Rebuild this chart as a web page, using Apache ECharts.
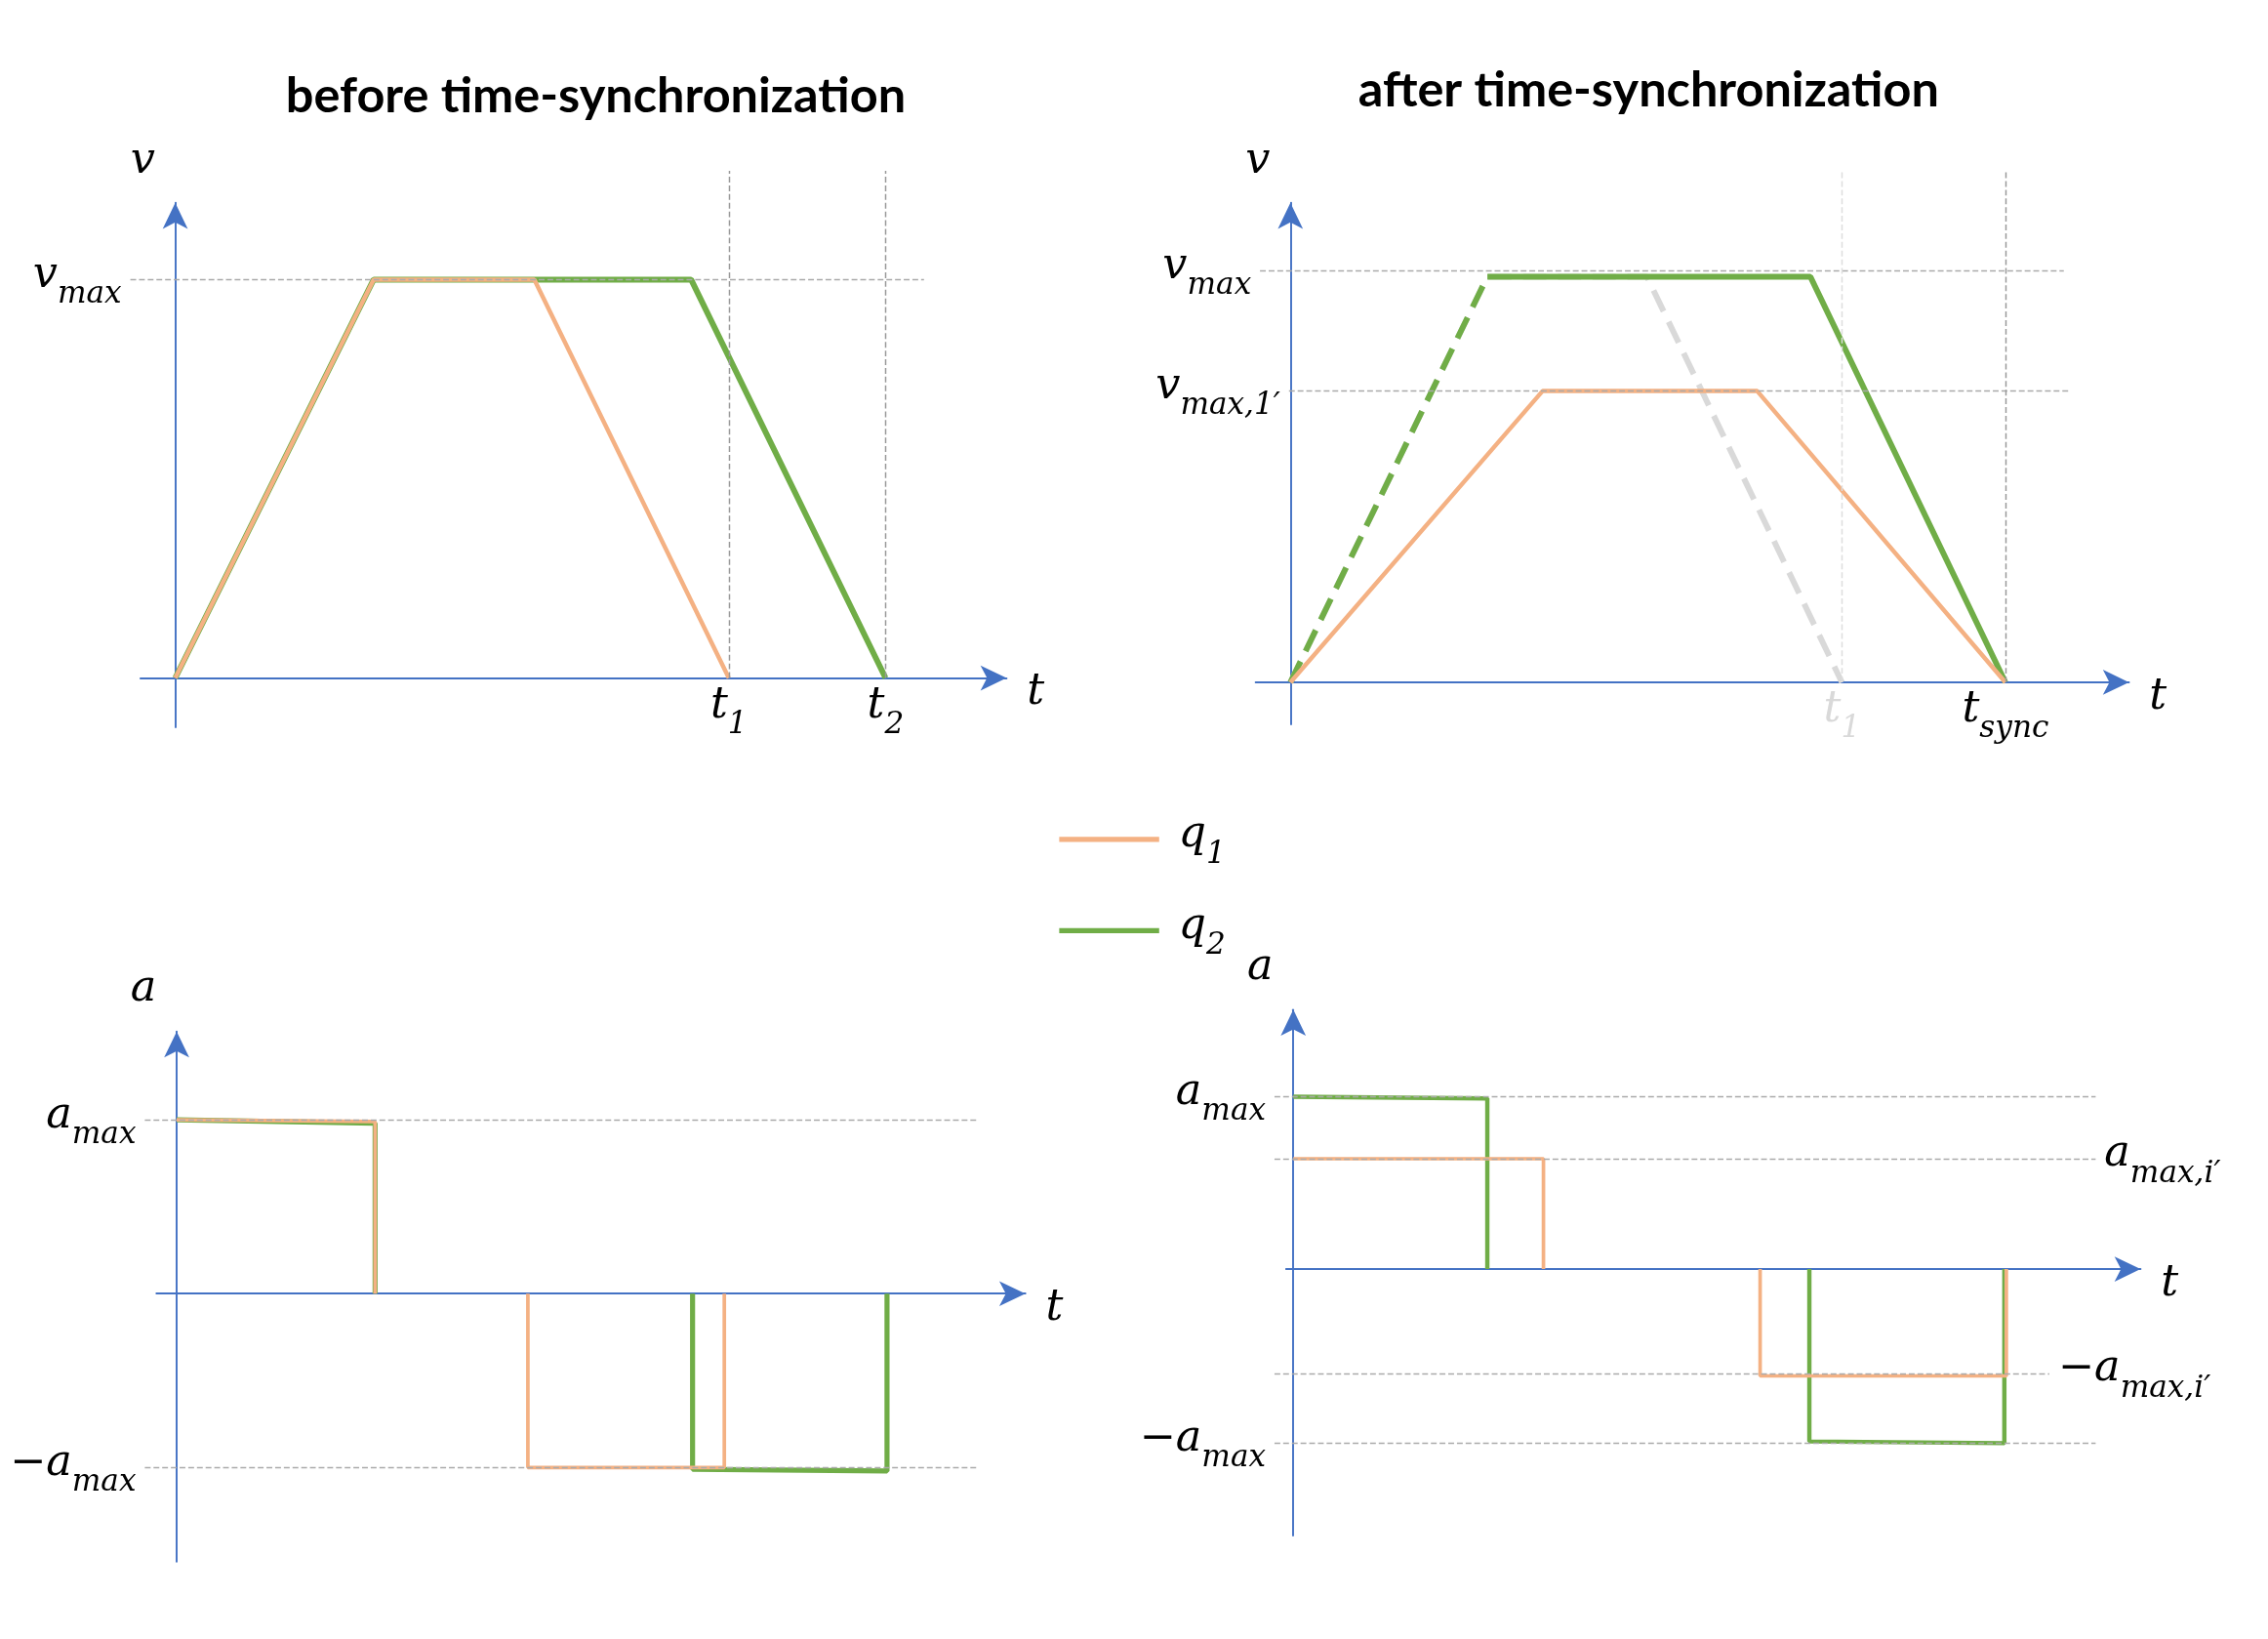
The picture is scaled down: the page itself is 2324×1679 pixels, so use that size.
<!DOCTYPE html>
<html lang="en">
<head>
<meta charset="UTF-8" />
<title>time synchronization</title>
<script src="https://cdn.jsdelivr.net/npm/echarts@6.0.0/dist/echarts.min.js"></script>
<style>
  body { margin: 0; background: #fff; }
  #main { width: 2324px; height: 1679px; }
</style>
</head>
<body>
<div id="main"></div>
<script>
// data (time in units of accel phase, velocity / accel normalised to max)
const beforeV_q1 = [[0, 0], [1, 1], [1.81, 1], [2.79, 0]];
const beforeV_q2 = [[0, 0], [1, 1], [2.6, 1], [3.58, 0]];
const beforeT = { t1: 2.79, t2: 3.58 };

const afterV_q1 = [[0, 0], [1.28, 0.708], [2.37, 0.708], [3.63, 0]];
const afterV_q2dash = [[0, 0], [1, 0.986]];
const afterV_q2 = [[1, 0.986], [2.64, 0.986], [3.63, 0]];
const afterV_ghost = [[0, 0], [1, 0.986], [1.81, 0.986], [2.8, 0]];
const afterT = { t1: 2.8, tsync: 3.63 };
const afterVmax = 1.0, afterVmax1 = 0.708;

const beforeA_q1 = [[0, 1], [1, 0.99], [1, 0], '-', [1.77, 0], [1.77, -1], [2.76, -1], [2.76, 0]];
const beforeA_q2 = [[0, 1], [1, 0.98], [1, 0], '-', [2.6, 0], [2.6, -1.01], [3.58, -1.02], [3.58, 0]];

const afterA_q1 = [[0, 0.64], [1.27, 0.64], [1.27, 0], '-', [2.37, 0], [2.37, -0.62], [3.62, -0.62], [3.62, 0]];
const afterA_q2 = [[0, 1], [0.985, 0.99], [0.985, 0], '-', [2.62, 0], [2.62, -1.0], [3.61, -1.01], [3.61, 0]];
const afterAi = 0.64, afterAiNeg = -0.605;

const S = 2324 / 1566;
const ORANGE = '#F4B183', GREEN = '#70AD47', GHOST = '#D9D9D9', BLUE = '#4472C4';

const P = [
  { ox: 121, oy: 468, xl: 90, xr: 695, yt: 118, yb: 502, at: 140, ux: 137, uy: 275, yn: 'v' },
  { ox: 891, oy: 471, xl: 870, xr: 1470, yt: 118, yb: 500, at: 140, ux: 136, uy: 284, yn: 'v' },
  { ox: 122, oy: 893, xl: 100, xr: 708, yt: 712, yb: 1078, at: 712, ux: 137, uy: 120, yn: 'a' },
  { ox: 893, oy: 876, xl: 880, xr: 1478, yt: 697, yb: 1060, at: 697, ux: 136, uy: 119, yn: 'a' }
];
const px2x = (p, x) => (x - p.ox) / p.ux;
const px2y = (p, y) => (p.oy - y) / p.uy;

const F = 30 * S, FS = 21 * S;
function rich(color) {
  return {
    m: { fontFamily: 'DejaVu Serif', fontStyle: 'italic', fontSize: F, color: color, lineHeight: F * 1.2, verticalAlign: 'top' },
    s: { fontFamily: 'DejaVu Serif', fontStyle: 'italic', fontSize: FS, color: color, lineHeight: F * 1.2, verticalAlign: 'bottom', padding: [0, 0, -3 * S, 0] }
  };
}
const lab = (m, s) => '{m|' + m + '}' + (s ? '{s|' + s + '}' : '');

// the axes are drawn in their own grid (arrow lengths), data and guides in a wider one
const grids = [], xAxes = [], yAxes = [];
P.forEach(p => {
  const axisLine = { onZero: true, symbol: ['none', 'arrow'], symbolSize: [13 * S, 18 * S], lineStyle: { color: BLUE, width: 1.3 * S } };
  const axl = (p.yn === 'v') ? p.ox - 24 : p.xl + 8;
  grids.push({ left: axl * S, top: p.at * S, width: (p.xr - axl) * S, height: (p.yb - p.at) * S });
  xAxes.push({
    type: 'value', gridIndex: grids.length - 1, min: px2x(p, axl), max: px2x(p, p.xr),
    splitLine: { show: false }, axisTick: { show: false }, axisLabel: { show: false }, axisLine,
    name: lab('t'), nameGap: 14 * S, nameTextStyle: { rich: rich('#000'), padding: [26 * S, 0, 0, 0] }
  });
  yAxes.push({
    type: 'value', gridIndex: grids.length - 1, min: px2y(p, p.yb), max: px2y(p, p.at),
    splitLine: { show: false }, axisTick: { show: false }, axisLabel: { show: false }, axisLine,
    name: lab(p.yn), nameGap: 8 * S, nameTextStyle: { rich: rich('#000'), align: 'right', padding: [0, 14 * S, 0, 0] }
  });
  grids.push({ left: p.xl * S, top: p.yt * S, width: (p.xr - p.xl) * S, height: (p.yb - p.yt) * S });
  xAxes.push({ type: 'value', gridIndex: grids.length - 1, min: px2x(p, p.xl), max: px2x(p, p.xr), show: false });
  yAxes.push({ type: 'value', gridIndex: grids.length - 1, min: px2y(p, p.yb), max: px2y(p, p.yt), show: false });
});

const dash = { color: '#AAAAAA', type: 'dashed', width: 1 * S };
function hline(p, y, x0, x1, text, pos) {
  return [{ coord: [px2x(p, x0), y], lineStyle: dash,
    label: text ? { show: true, position: pos, formatter: text, rich: rich('#000'), distance: 6 * S } : { show: false } },
    { coord: [px2x(p, x1), y] }];
}
function vline(p, x, ytop, text, color, lc) {
  return [{ coord: [x, 0], lineStyle: Object.assign({}, dash, { color: lc || '#999999' }),
    label: { show: true, position: 'start', formatter: text, rich: rich(color), distance: 4 * S } },
    { coord: [x, px2y(p, ytop)] }];
}
function mk(lines) {
  return { symbol: ['none', 'none'], silent: true, animation: false, data: lines };
}
function line(name, pi, data, color, w, type, ml, z) {
  const gi = pi * 2 + 1;
  return {
    name, type: 'line', xAxisIndex: gi, yAxisIndex: gi, data, symbol: 'none', connectNulls: false,
    lineStyle: { color, width: w * S, type: type || 'solid' }, itemStyle: { color },
    animation: false, silent: true, clip: false, z: z || 2, markLine: ml
  };
}

const series = [
  // before, velocity
  line('q2', 0, beforeV_q2, GREEN, 4, null, mk([
    hline(P[0], 1, 90, 638, lab('v', 'max'), 'start'),
    vline(P[0], beforeT.t1, 118, lab('t', '1'), '#000'),
    vline(P[0], beforeT.t2, 118, lab('t', '2'), '#000')
  ])),
  line('q1', 0, beforeV_q1, ORANGE, 3, null, null, 3),
  // after, velocity
  line('ghost', 1, afterV_ghost, GHOST, 4, 'dashed', mk([
    hline(P[1], afterVmax, 870, 1425, lab('v', 'max'), 'start'),
    hline(P[1], afterVmax1, 890, 1430, lab('v', 'max,1′'), 'start'),
    vline(P[1], afterT.t1, 118, lab('t', '1'), '#D9D9D9', '#DDDDDD'),
    vline(P[1], afterT.tsync, 118, lab('t', 'sync'), '#000')
  ]), 1),
  line('q2', 1, afterV_q2dash, GREEN, 4, 'dashed', null, 2),
  line('q2', 1, afterV_q2, GREEN, 4, null, null, 2),
  line('q1', 1, afterV_q1, ORANGE, 3, null, null, 3),
  // before, acceleration
  line('q2', 2, beforeA_q2, GREEN, 3.5, null, mk([
    hline(P[2], 1, 100, 675, lab('a', 'max'), 'start'),
    hline(P[2], -1, 100, 675, lab('−a', 'max'), 'start')
  ])),
  line('q1', 2, beforeA_q1, ORANGE, 2.5, null, null, 3),
  // after, acceleration
  line('q2', 3, afterA_q2, GREEN, 3, null, mk([
    hline(P[3], 1, 880, 1447, lab('a', 'max'), 'start'),
    hline(P[3], afterAi, 880, 1447, lab('a', 'max,i′'), 'end'),
    hline(P[3], afterAiNeg, 880, 1415, lab('−a', 'max,i′'), 'end'),
    hline(P[3], -1.01, 880, 1447, lab('−a', 'max'), 'start')
  ])),
  line('q1', 3, afterA_q1, ORANGE, 2.5, null, null, 3)
];

const chart = echarts.init(document.getElementById('main'));
chart.setOption({
  backgroundColor: '#fff',
  title: [
    { text: 'before time-synchronization', left: 408 * S, top: 46 * S, textAlign: 'center',
      textStyle: { fontFamily: 'Lato', fontWeight: 'bold', fontSize: 34 * S, color: '#000' } },
    { text: 'after time-synchronization', left: 1135 * S, top: 42 * S, textAlign: 'center',
      textStyle: { fontFamily: 'Lato', fontWeight: 'bold', fontSize: 34 * S, color: '#000' } }
  ],
  legend: {
    data: ['q1', 'q2'], orient: 'vertical', left: 728 * S, top: 558 * S,
    icon: 'rect', itemWidth: 69 * S, itemHeight: 3.5 * S, itemGap: 24 * S,
    formatter: n => lab('q', n.slice(1)),
    textStyle: { rich: rich('#000'), padding: [0, 0, 0, 10 * S] }
  },
  grid: grids, xAxis: xAxes, yAxis: yAxes, series
});
</script>
</body>
</html>
